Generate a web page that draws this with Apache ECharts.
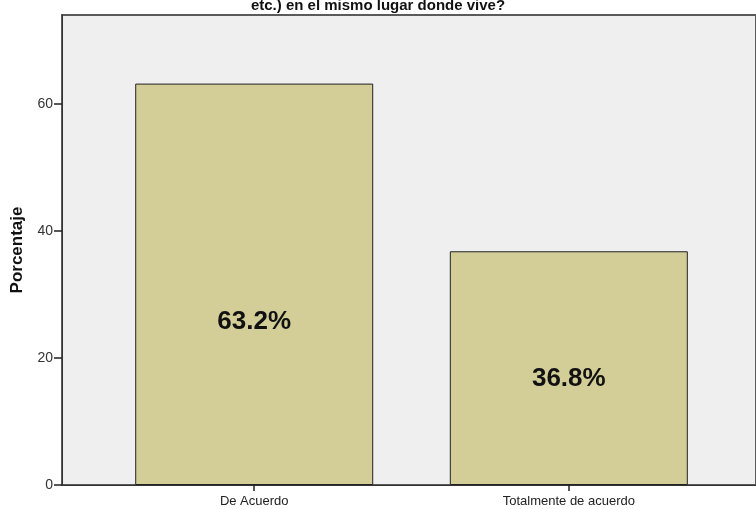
<!DOCTYPE html>
<html>
<head>
<meta charset="utf-8">
<script src="https://cdn.jsdelivr.net/npm/echarts@6/dist/echarts.min.js"></script>
<style>
  html, body { margin: 0; padding: 0; background: #fff; }
  #main { width: 756px; height: 509px; }
</style>
</head>
<body>
<div id="main"></div>
<script>
// datos del grafico
var categorias = ['De Acuerdo', 'Totalmente de acuerdo'];
var porcentajes = [63.2, 36.8];
var ticksY = [0, 20, 40, 60];
var titulo = 'etc.) en el mismo lugar donde vive?';

var fuente = '"Liberation Sans", Arial, sans-serif';
// desplazamiento vertical de la etiqueta dentro de cada barra
var offsetEtiqueta = [38, 11];

var myChart = echarts.init(document.getElementById('main'));

var datos = porcentajes.map(function (v, i) {
  return {
    value: [i, v],
    label: { offset: [0, offsetEtiqueta[i]] }
  };
});

myChart.setOption({
  animation: false,
  backgroundColor: '#ffffff',
  title: {
    text: titulo,
    left: 'center',
    top: -7,
    textStyle: { fontFamily: fuente, fontSize: 15, fontWeight: 'bold', color: '#111' }
  },
  grid: {
    left: 62,
    right: -3,
    top: 15,
    bottom: 24,
    show: true,
    backgroundColor: '#efefef',
    borderColor: '#5a5a5a',
    borderWidth: 2
  },
  xAxis: {
    type: 'value',
    min: -0.611,
    max: 1.595,
    splitLine: { show: false },
    axisLine: { show: true, onZero: false, lineStyle: { color: '#333', width: 1 } },
    axisTick: { show: true, customValues: [0, 1], length: 6, lineStyle: { color: '#222', width: 1.5 } },
    axisLabel: {
      customValues: [0, 1],
      formatter: function (v) { return categorias[Math.round(v)]; },
      color: '#222',
      fontFamily: fuente,
      fontSize: 13,
      margin: 10
    }
  },
  yAxis: {
    type: 'value',
    min: 0,
    max: 74,
    interval: 20,
    name: 'Porcentaje',
    nameLocation: 'middle',
    nameGap: 36,
    nameTextStyle: { fontFamily: fuente, fontSize: 17, fontWeight: 'bold', color: '#111' },
    splitLine: { show: false },
    axisLine: { show: true, onZero: false, lineStyle: { color: '#333', width: 1 } },
    axisTick: { show: true, length: 8, lineStyle: { color: '#222', width: 1.5 } },
    axisLabel: {
      showMaxLabel: false,
      color: '#333',
      fontFamily: fuente,
      fontSize: 14,
      margin: 9
    }
  },
  series: [
    {
      type: 'bar',
      barWidth: 238,
      data: datos,
      itemStyle: { color: '#d3ce98', borderColor: '#222', borderWidth: 1 },
      label: {
        show: true,
        position: 'inside',
        formatter: function (p) { return p.value[1].toFixed(1) + '%'; },
        fontFamily: fuente,
        fontSize: 26,
        fontWeight: 'bold',
        color: '#111'
      }
    }
  ]
});
</script>
</body>
</html>
